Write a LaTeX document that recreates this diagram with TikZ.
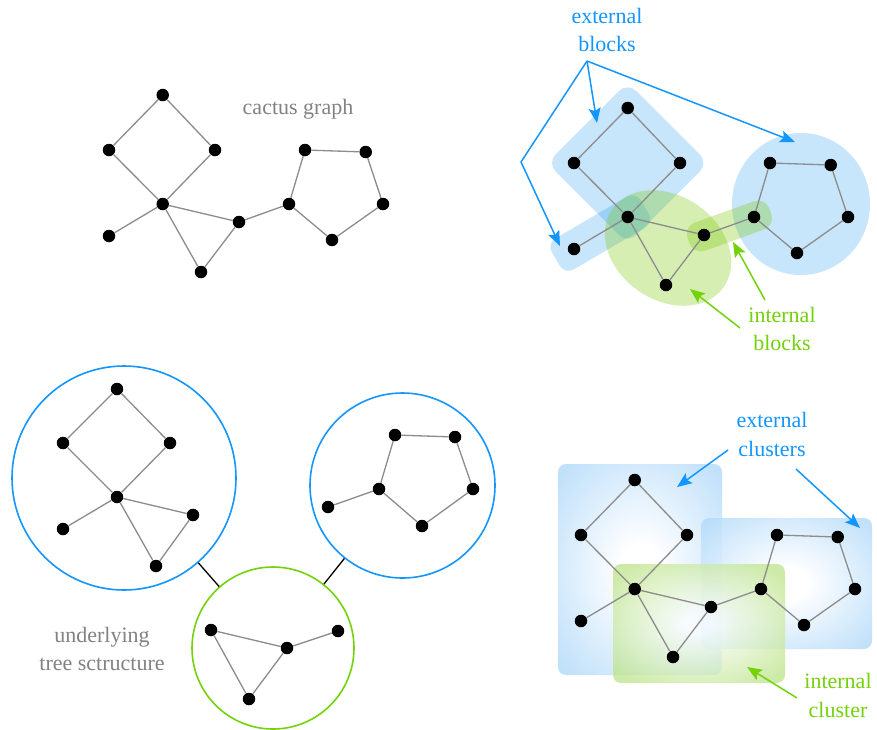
\documentclass[tikz,border=0pt]{standalone}
\usepackage{fontspec}
\setmainfont{Liberation Serif}
\usetikzlibrary{arrows.meta,shapes.geometric}
\definecolor{cblue}{RGB}{20,150,255}
\definecolor{cgreen}{RGB}{115,210,10}
\definecolor{cgray}{RGB}{130,130,130}
\definecolor{egray}{RGB}{140,140,140}
\definecolor{bfill}{RGB}{0,140,240}
\definecolor{gfill}{RGB}{120,200,0}
\definecolor{bshade}{RGB}{182,220,250}
\definecolor{gshade}{RGB}{190,228,140}
\pgfdeclareradialshading{bclust}{\pgfpoint{0bp}{0bp}}{color(0bp)=(white); color(6bp)=(white); color(33bp)=(bshade); color(50bp)=(bshade)}
\pgfdeclareradialshading{gclust}{\pgfpoint{0bp}{0bp}}{color(0bp)=(white); color(4bp)=(white); color(31bp)=(gshade); color(50bp)=(gshade)}
\tikzset{
  dot/.style={circle, fill=black, inner sep=0pt, minimum size=12.5pt},
  edge/.style={draw=egray, line width=1.3pt},
  lbl/.style={font=\fontsize{22}{28}\selectfont, inner sep=0pt, anchor=base},
  bluetxt/.style={lbl, text=cblue},
  greentxt/.style={lbl, text=cgreen},
  graytxt/.style={lbl, text=cgray},
  tip/.style={-{Stealth[length=15pt,width=12pt,inset=3pt]}, line width=1.5pt},
  bluearrow/.style={tip, draw=cblue},
  greenarrow/.style={tip, draw=cgreen},
  bblock/.style={fill=bfill, fill opacity=0.22, draw=none},
  gblock/.style={fill=gfill, fill opacity=0.3, draw=none},
  ring/.style={circle, draw, line width=1.6pt, inner sep=0pt},
  treeedge/.style={draw=black, line width=1.3pt},
  bcluster/.style={rounded corners=8pt, shading=bclust, fill opacity=0.85},
  gcluster/.style={rounded corners=8pt, shading=gclust, fill opacity=0.75}
}
\newcommand\cactusnodes[1]{%
  \node[dot] (#1t)  at (162.7,95) {};
  \node[dot] (#1l)  at (109,150) {};
  \node[dot] (#1r)  at (215,150) {};
  \node[dot] (#1c)  at (162.7,204) {};
  \node[dot] (#1lf) at (109,236) {};
  \node[dot] (#1tb) at (201,272) {};
  \node[dot] (#1tr) at (239,222) {};
  \node[dot] (#1pl) at (289,204) {};
  \node[dot] (#1pa) at (305,150) {};
  \node[dot] (#1pb) at (365.7,152) {};
  \node[dot] (#1pc) at (383,204) {};
  \node[dot] (#1pd) at (332,240) {};
  \draw[edge] (#1t) -- (#1l) -- (#1c) -- (#1r) -- (#1t);
  \draw[edge] (#1c) -- (#1lf);
  \draw[edge] (#1c) -- (#1tb) -- (#1tr) -- (#1c);
  \draw[edge] (#1tr) -- (#1pl);
  \draw[edge] (#1pl) -- (#1pa) -- (#1pb) -- (#1pc) -- (#1pd) -- (#1pl);
}
\begin{document}
\begin{tikzpicture}[x=1pt, y=-1pt]
\useasboundingbox (0,0) rectangle (877,729);
\fill[white] (0,0) rectangle (877,729);

% ---------- top left: cactus graph ----------
\cactusnodes{a}
\node[graytxt] (tcactus) at (298,114) {cactus graph};

% ---------- top right: blocks ----------
\node[bblock, rotate=45, minimum width=114pt, minimum height=114pt, rounded corners=12pt] (bsq) at (627.7,163) {};
\node[bblock, rotate=30.3, minimum width=103pt, minimum height=36pt, rounded corners=10pt] (bleaf) at (600.3,233) {};
\node[bblock, ellipse, minimum width=138pt, minimum height=142pt] (bpent) at (801,204) {};
\node[gblock, ellipse, rotate=-35, minimum width=136pt, minimum height=104pt] (gtri) at (668,248) {};
\node[gblock, rotate=19.8, minimum width=87pt, minimum height=30pt, rounded corners=12pt] (gbridge) at (729.5,226) {};
\begin{scope}[shift={(465,13)}]
\cactusnodes{b}
\end{scope}
\node[bluetxt] (teb1) at (607,23) {external};
\node[bluetxt] (teb2) at (607,51) {blocks};
\coordinate (ebfrom) at (587,61);
\coordinate (ebt1) at (597,123);
\coordinate (ebt2) at (795,142);
\coordinate (ebk) at (521,162);
\coordinate (ebt3) at (560,246);
\draw[bluearrow] (ebfrom) -- (ebt1);
\draw[bluearrow] (ebfrom) -- (ebt2);
\draw[bluearrow] (ebfrom) -- (ebk) -- (ebt3);
\node[greentxt] (tib1) at (782,322) {internal};
\node[greentxt] (tib2) at (782,350) {blocks};
\coordinate (ib1s) at (740,328);
\coordinate (ib1e) at (690,289);
\coordinate (ib2s) at (765,300);
\coordinate (ib2e) at (733,242);
\draw[greenarrow] (ib1s) -- (ib1e);
\draw[greenarrow] (ib2s) -- (ib2e);

% ---------- bottom left: tree structure ----------
\node[ring, draw=cblue, minimum size=224pt] (cbig) at (124,478) {};
\node[ring, draw=cblue, minimum size=185pt] (cright) at (402.5,485.5) {};
\node[ring, draw=cgreen, minimum size=162pt] (cgrn) at (273,648) {};
\draw[treeedge] (cbig) -- (cgrn);
\draw[treeedge] (cright) -- (cgrn);

\node[dot] (dt)  at (117,389) {};
\node[dot] (dl)  at (63,443) {};
\node[dot] (dr)  at (170,443) {};
\node[dot] (dc)  at (117,497) {};
\node[dot] (dlf) at (63,529) {};
\node[dot] (dtr) at (193,515) {};
\node[dot] (dtb) at (156,566) {};
\draw[edge] (dt) -- (dl) -- (dc) -- (dr) -- (dt);
\draw[edge] (dc) -- (dlf);
\draw[edge] (dc) -- (dtr) -- (dtb) -- (dc);

\node[dot] (ea) at (395,435) {};
\node[dot] (eb) at (455,437) {};
\node[dot] (ec) at (473,489) {};
\node[dot] (ed) at (422,526) {};
\node[dot] (el) at (379,489) {};
\node[dot] (elf) at (328,507) {};
\draw[edge] (el) -- (ea) -- (eb) -- (ec) -- (ed) -- (el);
\draw[edge] (el) -- (elf);

\node[dot] (gl) at (211,630) {};
\node[dot] (gh) at (287,648) {};
\node[dot] (gb) at (249,699) {};
\node[dot] (gr) at (338,631) {};
\draw[edge] (gl) -- (gh) -- (gb) -- (gl);
\draw[edge] (gh) -- (gr);

\node[graytxt] (tu1) at (102,642) {underlying};
\node[graytxt] (tu2) at (102,670) {tree sctructure};

% ---------- bottom right: clusters ----------
\shade[bcluster] (558,464) rectangle (722,675);
\shade[bcluster] (701,518) rectangle (872,649);
\shade[gcluster] (613,564) rectangle (785,683);
\begin{scope}[shift={(472,385)}]
\cactusnodes{c}
\end{scope}
\node[bluetxt] (tec1) at (772,427) {external};
\node[bluetxt] (tec2) at (772,456) {clusters};
\coordinate (ec1s) at (728,450);
\coordinate (ec1e) at (677,487);
\coordinate (ec2s) at (796,469);
\coordinate (ec2e) at (860,528);
\draw[bluearrow] (ec1s) -- (ec1e);
\draw[bluearrow] (ec2s) -- (ec2e);
\node[greentxt] (tic1) at (838,688) {internal};
\node[greentxt] (tic2) at (838,717) {cluster};
\coordinate (ic1s) at (797,698);
\coordinate (ic1e) at (747,667);
\draw[greenarrow] (ic1s) -- (ic1e);
\end{tikzpicture}
\end{document}
